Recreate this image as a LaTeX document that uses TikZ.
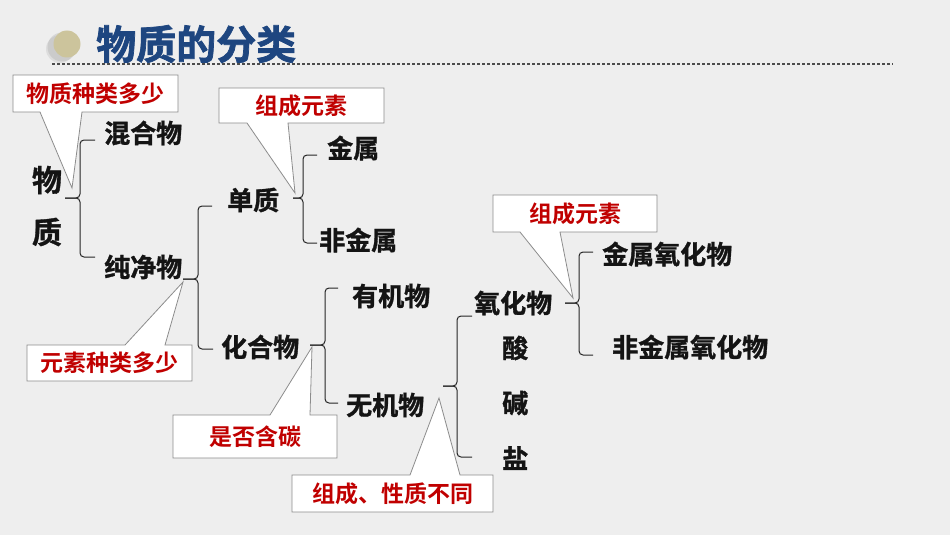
\documentclass[tikz,border=0pt]{standalone}
\usepackage{fontspec}
\newfontfamily\cjk{Noto Sans CJK SC}[BoldFont={Noto Sans CJK SC Bold}]
\newfontfamily\cjkh{Noto Sans CJK SC}[BoldFont={Noto Sans CJK SC Bold}, BoldFeatures={FakeBold=1.2}]
\newfontfamily\cjkt{Noto Sans CJK SC}[BoldFont={Noto Sans CJK SC Bold}, BoldFeatures={FakeBold=1.8}]
\definecolor{titleblue}{HTML}{1E4680}
\definecolor{callred}{HTML}{C00000}
\definecolor{bggray}{HTML}{EEEEEE}
\definecolor{khaki}{HTML}{CCC49C}
\tikzset{
  term/.style={font=\cjkh\bfseries\fontsize{26}{26}\selectfont, text=black!92, inner sep=0pt, anchor=west},
  bigterm/.style={font=\cjkh\bfseries\fontsize{30}{30}\selectfont, text=black!92, inner sep=0pt},
  note/.style={font=\cjk\bfseries\fontsize{23}{23}\selectfont, text=callred, inner sep=0pt},
  callout/.style={fill=white, draw=black!45, line width=0.8pt, line join=miter},
  brace/.style={draw=black!85, line width=1pt, rounded corners=4pt},
}
\begin{document}
\begin{tikzpicture}[x=1pt,y=-1pt]
\fill[bggray] (0,0) rectangle (950,535);
\useasboundingbox (0,0) rectangle (950,535);

% title
\fill[black!40, opacity=0.25] (62,47) circle (14.5);
\fill[black!40, opacity=0.2] (60,49) circle (14);
\fill[khaki] (67,44) circle (13.5);
\node[font=\cjkt\bfseries\fontsize{40}{40}\selectfont, text=titleblue, inner sep=0pt, anchor=west] (title) at (96,44) {物质的分类};
\draw[black!70, line width=1.2pt, dash pattern=on 3pt off 2pt] (52,64) -- (893,64);

% brace nubs (named coordinates)
\coordinate (n1) at (65,198);
\coordinate (n2) at (183,279);
\coordinate (n3) at (293,198);
\coordinate (n4) at (310,345);
\coordinate (n5) at (443,386);
\coordinate (n6) at (565,303);

% callouts
\draw[callout] (13,75) -- (178,75) -- (178,112) -- (82,112) -- (72,188) -- (40,112) -- (13,112) -- cycle;
\node[note] (c1) at (95.5,93.5) {物质种类多少};

\draw[callout] (219,88) -- (384,88) -- (384,123) -- (288,123) -- (295,193) -- (247,123) -- (219,123) -- cycle;
\node[note] (c2) at (301.5,105.5) {组成元素};

\draw[callout] (27,345) -- (125,345) -- (183,282) -- (165,345) -- (192,345) -- (192,381) -- (27,381) -- cycle;
\node[note] (c3) at (109.5,363) {元素种类多少};

\draw[callout] (173,415) -- (270,415) -- (312,347) -- (310,415) -- (337,415) -- (337,458) -- (173,458) -- cycle;
\node[note] (c4) at (255,436.5) {是否含碳};

\draw[callout] (493,195) -- (657,195) -- (657,232) -- (560,232) -- (573,298) -- (520,232) -- (493,232) -- cycle;
\node[note] (c5) at (575,213.5) {组成元素};

\draw[callout] (292,475) -- (410,475) -- (439,398) -- (460,475) -- (493,475) -- (493,512) -- (292,512) -- cycle;
\node[note] (c6) at (392.5,493.5) {组成、性质不同};

% terms
\node[bigterm] (wu) at (47,180) {物};
\node[bigterm] (zhi) at (47,232) {质};
\node[term] (hunhe) at (104,133) {混合物};
\node[term] (chunjing) at (104,267) {纯净物};
\node[term] (danzhi) at (227,200) {单质};
\node[term] (huahe) at (221,347) {化合物};
\node[term] (jinshu) at (327,148) {金属};
\node[term] (feijinshu) at (319,240) {非金属};
\node[term] (youji) at (352,296) {有机物};
\node[term] (wuji) at (346,405) {无机物};
\node[term] (yanghua) at (474,303) {氧化物};
\node[term] (suan) at (502,348) {酸};
\node[term] (jian) at (502,403) {碱};
\node[term] (yan) at (502,458) {盐};
\node[term] (jsyh) at (602,254) {金属氧化物};
\node[term] (fjsyh) at (612,347) {非金属氧化物};

% braces
\draw[brace] (95,140) -- (80,140) -- (80,198) -- (n1);
\draw[brace] (n1) -- (80,198) -- (80,257) -- (95,257);

\draw[brace] (212,206) -- (198,206) -- (198,279) -- (n2);
\draw[brace] (n2) -- (198,279) -- (198,349) -- (213,349);

\draw[brace] (317,155) -- (303,155) -- (303,198) -- (n3);
\draw[brace] (n3) -- (303,198) -- (303,243) -- (317,243);

\draw[brace] (338,288) -- (325,288) -- (325,345) -- (n4);
\draw[brace] (n4) -- (325,345) -- (325,403) -- (338,403);

\draw[brace] (472,316) -- (457,316) -- (457,386) -- (n5);
\draw[brace] (n5) -- (457,386) -- (457,457) -- (472,457);

\draw[brace] (593,252) -- (579,252) -- (579,303) -- (n6);
\draw[brace] (n6) -- (579,303) -- (579,355) -- (593,355);
\end{tikzpicture}
\end{document}
